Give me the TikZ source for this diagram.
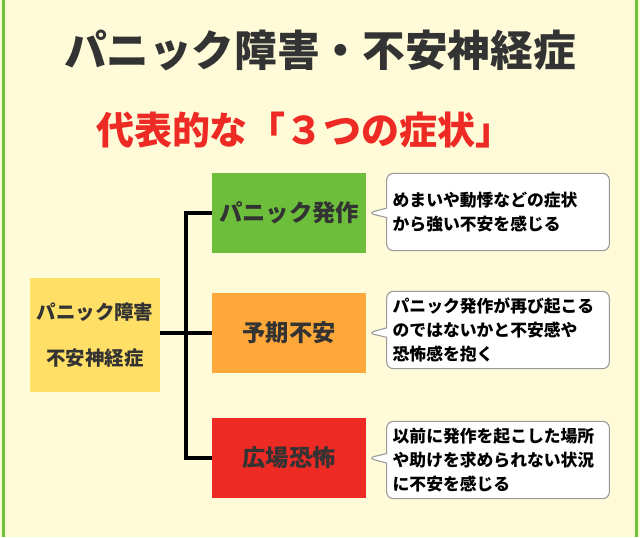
\documentclass[tikz,border=0pt]{standalone}
\usepackage{fontspec}
\setmainfont{Noto Sans CJK JP}
\usetikzlibrary{positioning, shapes.callouts}
\definecolor{bgyellow}{HTML}{FFFBD9}
\definecolor{framegreen}{HTML}{6DC23A}
\definecolor{symgreen}{HTML}{6DBE3A}
\definecolor{symorange}{HTML}{FFA83A}
\definecolor{symred}{HTML}{EE2A24}
\definecolor{rootyellow}{HTML}{FFDF66}
\definecolor{textgray}{HTML}{333333}
\tikzset{
  sym/.style={minimum width=115pt, minimum height=60pt, inner sep=0pt,
    font=\fontsize{17.5}{20}\selectfont\bfseries, text=textgray},
  note/.style={rectangle callout, draw=gray!80, fill=white, line width=0.8pt,
    rounded corners=5pt, minimum width=167pt, minimum height=58pt,
    text width=158pt, align=left, font=\fontsize{12.6}{18}\selectfont\bfseries,
    text=black},
  branch/.style={line width=3pt, black}
}
\begin{document}
\begin{tikzpicture}[x=0.75pt, y=-0.75pt]
	\fill[bgyellow] (0,0) rectangle (640,537);
	\useasboundingbox (0,0) rectangle (640,537);
	\fill[framegreen] (2,0) rectangle (5,537);
	\fill[framegreen] (635,0) rectangle (638,537);
	% headings
	\node[font=\fontsize{32}{36}\selectfont\bfseries, text=textgray] (title) at (320,50) {パニック障害・不安神経症};
	\node[font=\fontsize{28.5}{32}\selectfont\bfseries, text=symred] (subtitle) at (305,130) {代表的な「３つの症状」};
	% root and symptoms
	\node[fill=rootyellow, minimum width=97pt, minimum height=85pt, align=center,
	      font=\fontsize{14.6}{34}\selectfont\bfseries, text=textgray] (root) at (95,335)
	      {パニック障害\\不安神経症};
	\node[sym, fill=symgreen] (attack) at (289,213) {パニック発作};
	\node[sym, fill=symorange] (anxiety) at (289,333) {予期不安};
	\node[sym, fill=symred] (agora) at (289,458) {広場恐怖};
	\coordinate (fork) at (186,333);
	\draw[branch] (root.east |- fork) -- (fork);
	\draw[branch] (attack.west) -| (fork) |- (agora.west);
	\draw[branch] (fork) -- (anxiety.west);
	% notes
	\node[note, callout absolute pointer={(368,213)}] (n1) at (498,212)
	      {めまいや動悸などの症状\\から強い不安を感じる};
	\node[note, callout absolute pointer={(368,333)}] (n2) at (498,330)
	      {パニック発作が再び起こる\\のではないかと不安感や\\恐怖感を抱く};
	\node[note, callout absolute pointer={(368,458)}] (n3) at (498,460)
	      {以前に発作を起こした場所\\や助けを求められない状況\\に不安を感じる};
\end{tikzpicture}
\end{document}
